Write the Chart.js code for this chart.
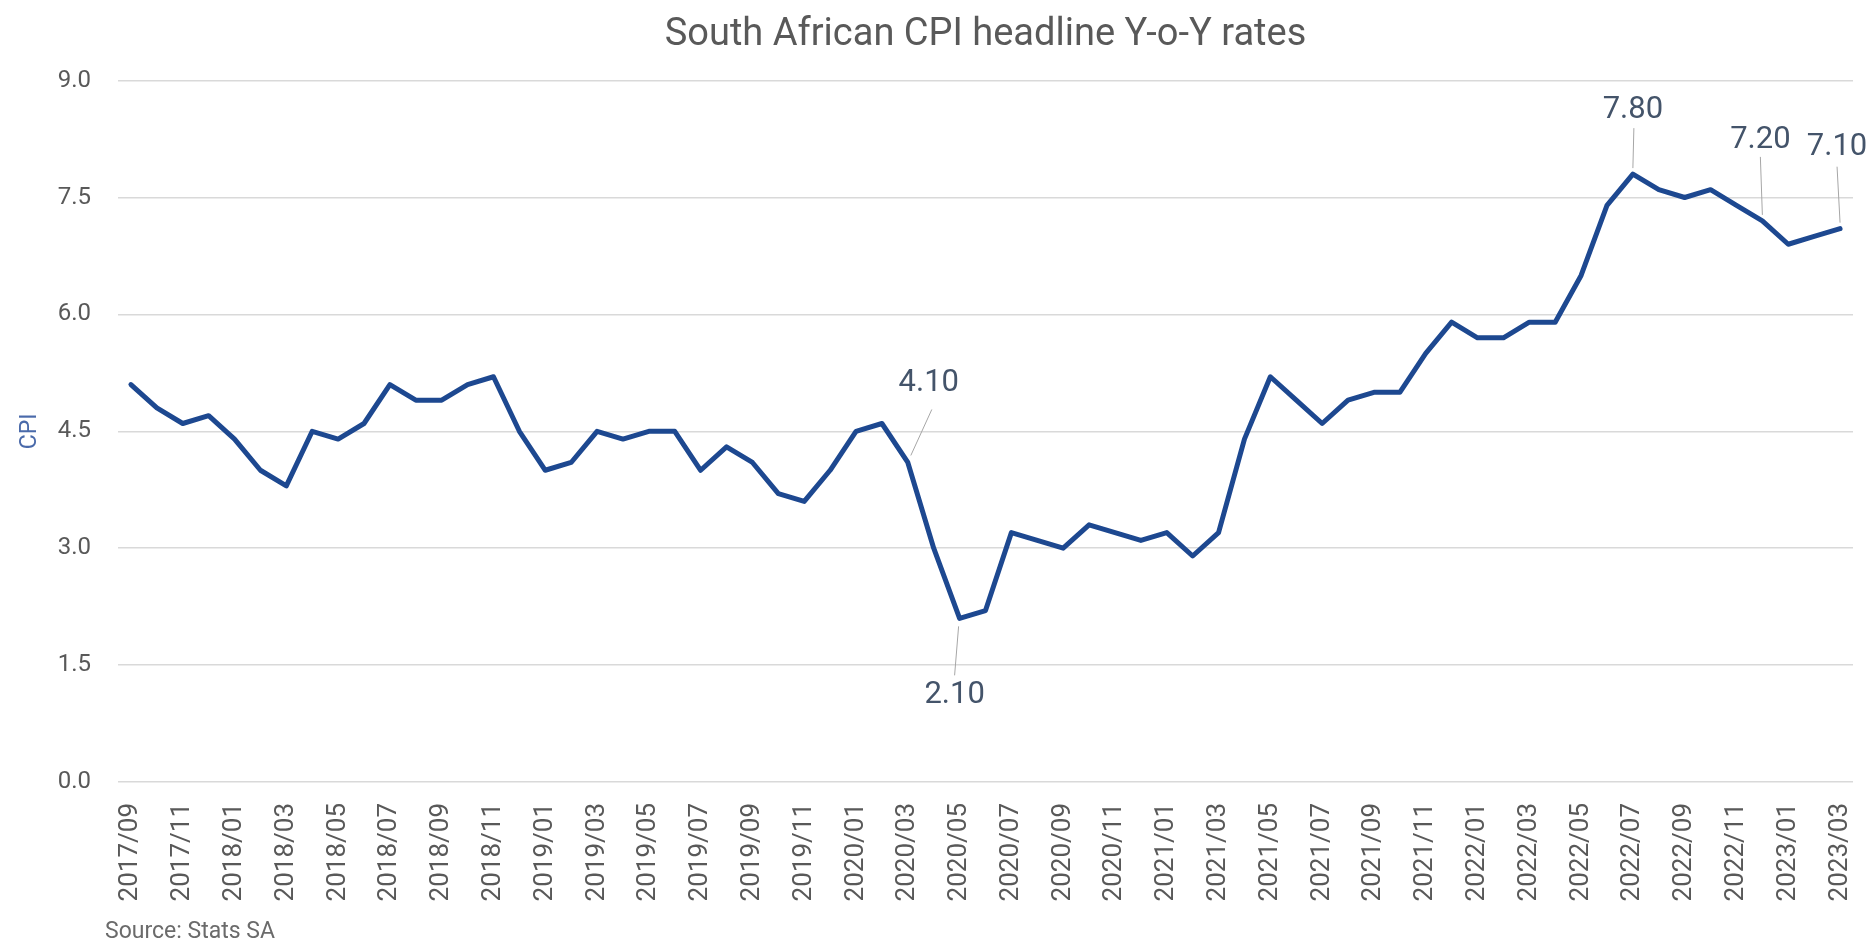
<!DOCTYPE html>
<html>
<head>
<meta charset="utf-8">
<title>South African CPI headline Y-o-Y rates</title>
<script src="https://cdn.jsdelivr.net/npm/chart.js@4/dist/chart.umd.min.js"></script>
<style>
  html, body { margin: 0; padding: 0; background: #fff; }
  #wrap { position: relative; width: 1874px; height: 944px; }
  #source { position: absolute; left: 105px; top: 917px; font: 23px Roboto, sans-serif; color: #6b6b6b; }
</style>
</head>
<body>
<div id="wrap">
  <canvas id="cpi" width="1874" height="944"></canvas>
  <div id="source">Source: Stats SA</div>
</div>
<script>
// months shown on the x axis (every month, labels printed every second one)
const months = [
  "2017/09", "2017/10", "2017/11", "2017/12",
  "2018/01", "2018/02", "2018/03", "2018/04", "2018/05", "2018/06", "2018/07", "2018/08", "2018/09", "2018/10", "2018/11", "2018/12",
  "2019/01", "2019/02", "2019/03", "2019/04", "2019/05", "2019/06", "2019/07", "2019/08", "2019/09", "2019/10", "2019/11", "2019/12",
  "2020/01", "2020/02", "2020/03", "2020/04", "2020/05", "2020/06", "2020/07", "2020/08", "2020/09", "2020/10", "2020/11", "2020/12",
  "2021/01", "2021/02", "2021/03", "2021/04", "2021/05", "2021/06", "2021/07", "2021/08", "2021/09", "2021/10", "2021/11", "2021/12",
  "2022/01", "2022/02", "2022/03", "2022/04", "2022/05", "2022/06", "2022/07", "2022/08", "2022/09", "2022/10", "2022/11", "2022/12",
  "2023/01", "2023/02", "2023/03"
];

// headline CPI, year-on-year %
const cpi = [
  5.1, 4.8, 4.6, 4.7,
  4.4, 4.0, 3.8, 4.5, 4.4, 4.6, 5.1, 4.9, 4.9, 5.1, 5.2, 4.5,
  4.0, 4.1, 4.5, 4.4, 4.5, 4.5, 4.0, 4.3, 4.1, 3.7, 3.6, 4.0,
  4.5, 4.6, 4.1, 3.0, 2.1, 2.2, 3.2, 3.1, 3.0, 3.3, 3.2, 3.1,
  3.2, 2.9, 3.2, 4.4, 5.2, 4.9, 4.6, 4.9, 5.0, 5.0, 5.5, 5.9,
  5.7, 5.7, 5.9, 5.9, 6.5, 7.4, 7.8, 7.6, 7.5, 7.6, 7.4, 7.2,
  6.9, 7.0, 7.1
];

const yTicks = [0, 1.5, 3, 4.5, 6, 7.5, 9];

// months that carry a data label
const labelled = ["2020/03", "2020/05", "2022/07", "2022/12", "2023/03"];

// label placement relative to the point, and leader end relative to the label
const calloutStyle = {
  "2020/03": { dx: 21, dy: -79, lx: 3, ly: 26, sx: 3, sy: -7 },
  "2020/05": { dx: -5, dy: 77, lx: 0, ly: -20, sx: -1, sy: 8 },
  "2022/07": { dx: 0, dy: -64, lx: 1, ly: 18, sx: 0, sy: -6 },
  "2022/12": { dx: -2, dy: -81, lx: 0, ly: 17, sx: 0, sy: -6 },
  "2023/03": { dx: -3, dy: -81, lx: 0, ly: 19, sx: 0, sy: -6 }
};

const FONT = "Roboto, 'Noto Sans', sans-serif";

const callouts = {
  id: "callouts",
  afterDatasetsDraw(chart) {
    const { ctx } = chart;
    const xs = chart.scales.x, ys = chart.scales.y;
    ctx.save();
    labelled.forEach(m => {
      const i = months.indexOf(m);
      const s = calloutStyle[m];
      const px = xs.getPixelForValue(i), py = ys.getPixelForValue(cpi[i]);
      const tx = px + s.dx, ty = py + s.dy;
      ctx.strokeStyle = "#a6a6a6";
      ctx.lineWidth = 1;
      ctx.beginPath();
      ctx.moveTo(px + s.sx, py + s.sy);
      ctx.lineTo(tx + s.lx, ty + s.ly);
      ctx.stroke();
      ctx.fillStyle = "#44546a";
      ctx.font = "31px " + FONT;
      ctx.textAlign = "center";
      ctx.textBaseline = "middle";
      ctx.fillText(cpi[i].toFixed(2), tx, ty);
    });
    ctx.restore();
  }
};

new Chart(document.getElementById("cpi"), {
  type: "line",
  data: {
    labels: months,
    datasets: [{
      label: "CPI",
      data: cpi,
      borderColor: "#1d4890",
      borderWidth: 5,
      borderJoinStyle: "round",
      borderCapStyle: "round",
      pointRadius: 0,
      tension: 0,
      fill: false
    }]
  },
  options: {
    responsive: false,
    animation: false,
    layout: { padding: { left: 0, right: 21, top: 0, bottom: 0 } },
    plugins: {
      legend: { display: false },
      tooltip: { enabled: false },
      title: {
        display: true,
        text: "South African CPI headline Y-o-Y rates",
        fullSize: false,
        color: "#595959",
        font: { family: FONT, size: 38, weight: "normal" },
        padding: { top: 13, bottom: 22 }
      }
    },
    scales: {
      x: {
        offset: true,
        grid: { display: false, drawTicks: false },
        border: { display: false },
        ticks: {
          autoSkip: false,
          minRotation: 90,
          maxRotation: 90,
          padding: 21,
          color: "#595959",
          font: { family: FONT, size: 26 },
          callback: (v, i) => (i % 2 === 0 ? months[i] : "")
        },
        afterFit: s => { s.height = 162; s.paddingLeft = 0; s.paddingRight = 0; }
      },
      y: {
        min: 0,
        max: 9,
        afterBuildTicks: s => { s.ticks = yTicks.map(v => ({ value: v })); },
        grid: { color: "#d9d9d9", lineWidth: 1.5, drawTicks: false },
        border: { display: false },
        ticks: {
          padding: 27,
          color: "#595959",
          font: { family: FONT, size: 24 },
          callback: v => v.toFixed(1)
        },
        title: {
          display: true,
          text: "CPI",
          color: "#4a6aaa",
          font: { family: FONT, size: 23 },
          padding: { top: 16, bottom: 0 }
        },
        afterFit: s => { s.width = 118; }
      }
    }
  },
  plugins: [callouts]
});
</script>
</body>
</html>
